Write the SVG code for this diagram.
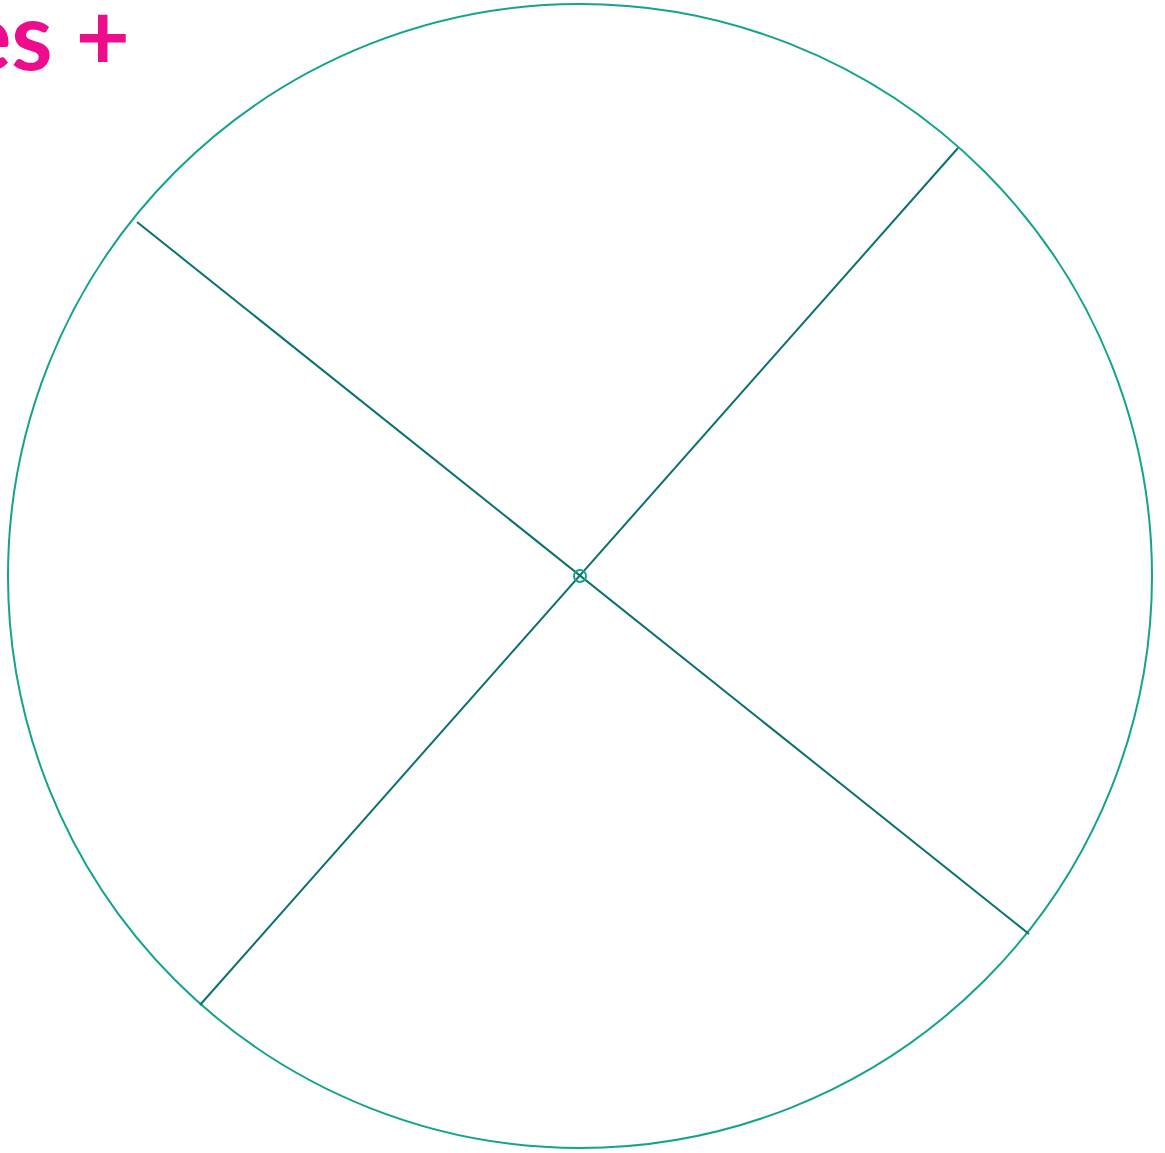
<svg xmlns="http://www.w3.org/2000/svg" width="1165" height="1153" viewBox="0 0 1165 1153">
<style>
.ring{fill:none;stroke:#14a38b;stroke-width:2}
.spoke{stroke:#0b726b;stroke-width:2;fill:none}
.title{font-family:Lato,"Open Sans","Liberation Sans",sans-serif;font-weight:bold;font-size:94px;fill:#ec0c8c}
</style>
<rect width="1165" height="1153" fill="#fff"/>
<g id="title"><text class="title" x="130" y="70" text-anchor="end">es +</text></g>
<g id="outer-circle"><circle class="ring" cx="580" cy="576" r="572"/></g>
<g id="connectors">
<line class="spoke" x1="137" y1="222" x2="1029" y2="934"/>
<line class="spoke" x1="958" y1="148" x2="200" y2="1005"/>
</g>
<g id="center"><circle class="ring" cx="580" cy="576" r="6"/></g>
</svg>
